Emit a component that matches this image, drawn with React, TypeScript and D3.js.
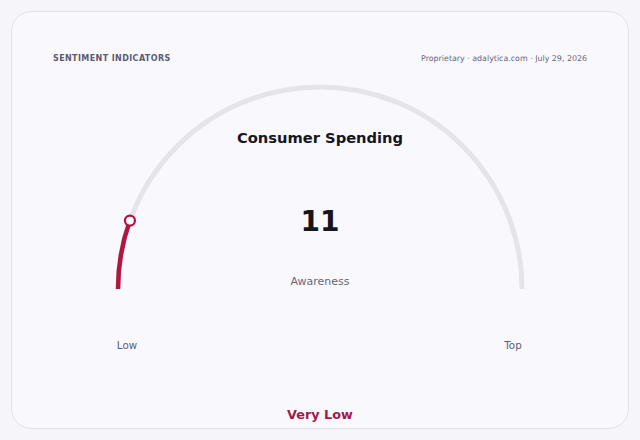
import React, { useEffect, useRef } from 'react';
import * as d3 from 'd3';

// gauge data
const title = 'Consumer Spending';
const gaugeValue = 11;
const gaugeDomain = [0, 100];
const metricLabel = 'Awareness';
const endLabels = ['Low', 'Top'];
const ratingLabel = 'Very Low';
const headerLeft = 'SENTIMENT INDICATORS';
const headerRight = 'Proprietary · adalytica.com · July 29, 2026';

const W = 640;
const H = 440;
const FONT = '"DejaVu Sans", sans-serif';

const App: React.FC = () => {
  const ref = useRef<SVGSVGElement>(null);

  useEffect(() => {
    document.body.style.margin = '0';
    document.body.style.background = '#f6f6fa';

    const svg = d3.select(ref.current);
    svg.selectAll('*').remove();

    // card
    svg.append('rect')
      .attr('x', 11.5).attr('y', 11.5)
      .attr('width', 617).attr('height', 417)
      .attr('rx', 20)
      .attr('fill', '#f9f9fd')
      .attr('stroke', '#e1e1ea')
      .attr('stroke-width', 1);

    svg.append('text')
      .attr('x', 53).attr('y', 61)
      .attr('font-family', FONT).attr('font-size', 8).attr('font-weight', 'bold')
      .attr('letter-spacing', 0.4)
      .attr('fill', '#5b5b70')
      .text(headerLeft);

    svg.append('text')
      .attr('x', 587).attr('y', 61)
      .attr('text-anchor', 'end')
      .attr('font-family', FONT).attr('font-size', 7.9)
      .attr('fill', '#66667a')
      .text(headerRight);

    const cx = 320;
    const cy = 289;
    const r = 202;

    // angle in d3.arc convention: 0 at top, clockwise
    const angle = d3.scaleLinear().domain(gaugeDomain).range([-Math.PI / 2, Math.PI / 2]);

    const g = svg.append('g').attr('transform', `translate(${cx},${cy})`);

    const track = d3.arc<any>()
      .innerRadius(r).outerRadius(r)
      .startAngle(angle(gaugeDomain[0])).endAngle(angle(gaugeDomain[1]));

    g.append('path')
      .attr('d', track({}) as string)
      .attr('fill', 'none')
      .attr('stroke', '#e4e4ea')
      .attr('stroke-width', 5)
      .attr('stroke-linecap', 'round');

    const valueArc = d3.arc<any>()
      .innerRadius(r).outerRadius(r)
      .startAngle(angle(gaugeDomain[0])).endAngle(angle(gaugeValue));

    g.append('path')
      .attr('d', valueArc({}) as string)
      .attr('fill', 'none')
      .attr('stroke', '#b0163f')
      .attr('stroke-width', 4.5)
      .attr('stroke-linecap', 'round');

    const a = angle(gaugeValue);
    g.append('circle')
      .attr('cx', r * Math.sin(a))
      .attr('cy', -r * Math.cos(a))
      .attr('r', 5)
      .attr('fill', '#ffffff')
      .attr('stroke', '#b0163f')
      .attr('stroke-width', 2.2);

    svg.append('text')
      .attr('x', cx).attr('y', 143)
      .attr('text-anchor', 'middle')
      .attr('font-family', FONT).attr('font-size', 14.7).attr('font-weight', 'bold')
      .attr('fill', '#16161e')
      .text(title);

    svg.append('text')
      .attr('x', cx).attr('y', 231)
      .attr('text-anchor', 'middle')
      .attr('font-family', FONT).attr('font-size', 28).attr('font-weight', 'bold')
      .attr('fill', '#16161e')
      .text(String(gaugeValue));

    svg.append('text')
      .attr('x', cx).attr('y', 285)
      .attr('text-anchor', 'middle')
      .attr('font-family', FONT).attr('font-size', 11)
      .attr('fill', '#66667a')
      .text(metricLabel);

    const labelX = [cx - 193, cx + 193];
    endLabels.forEach((lbl, i) => {
      svg.append('text')
        .attr('x', labelX[i]).attr('y', 349)
        .attr('text-anchor', 'middle')
        .attr('font-family', FONT).attr('font-size', 10.3)
        .attr('fill', '#5e5e70')
        .text(lbl);
    });

    svg.append('text')
      .attr('x', cx).attr('y', 419)
      .attr('text-anchor', 'middle')
      .attr('font-family', FONT).attr('font-size', 12.8).attr('font-weight', 'bold')
      .attr('fill', '#a8164a')
      .text(ratingLabel);
  }, []);

  return <svg ref={ref} width={W} height={H} style={{ display: 'block' }} />;
};

export default App;
